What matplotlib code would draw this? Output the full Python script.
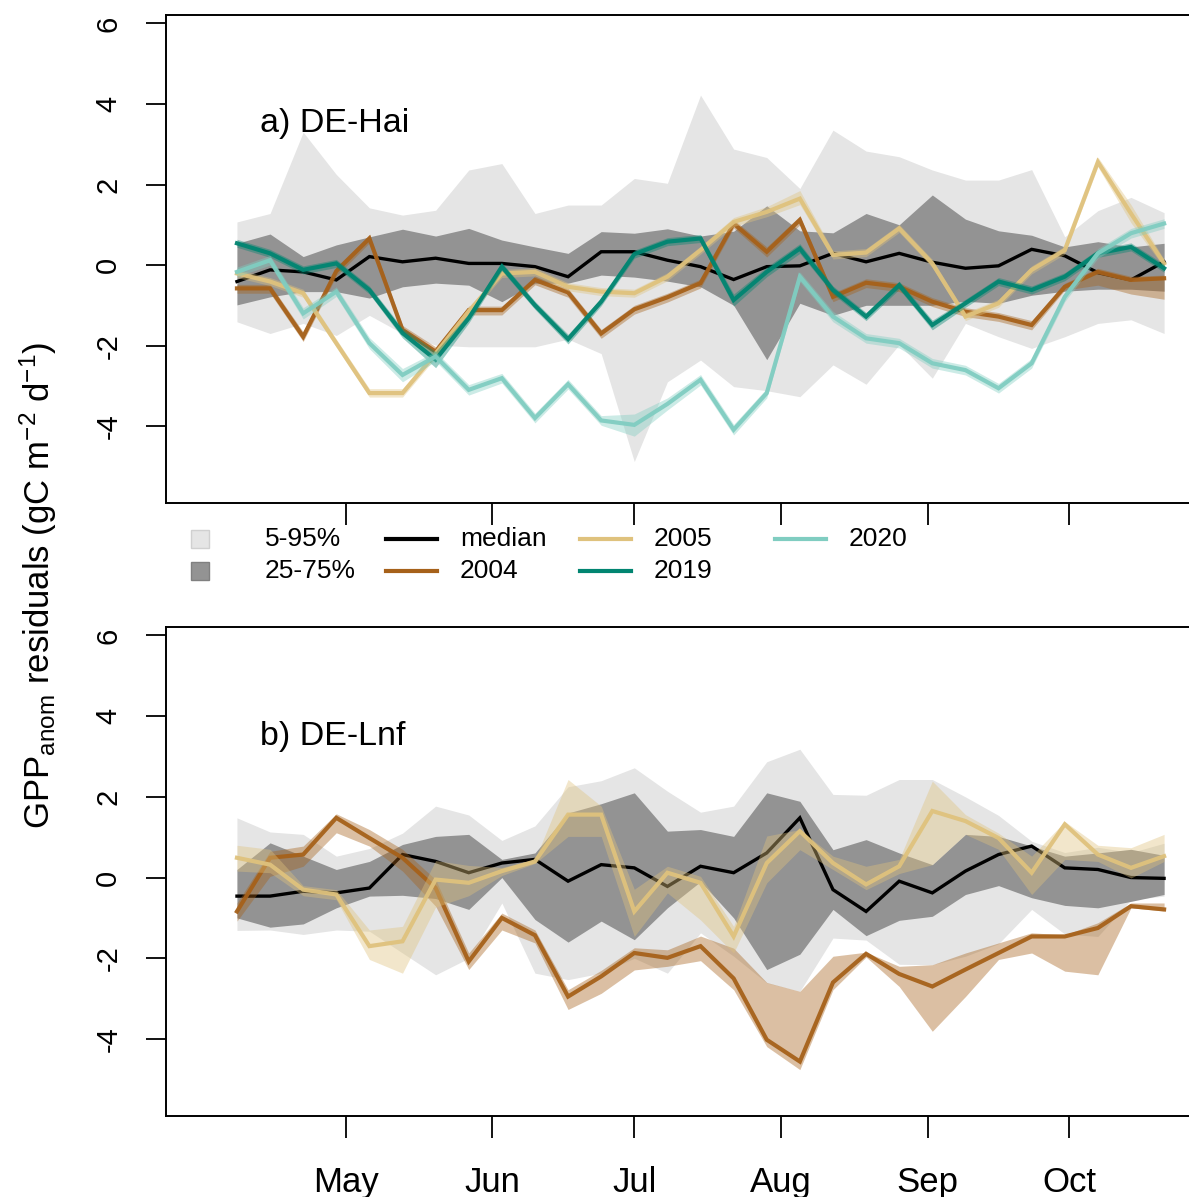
import matplotlib
matplotlib.use("Agg")
import matplotlib.pyplot as plt
from matplotlib.patches import Rectangle
from matplotlib.lines import Line2D

plt.rcParams['font.family'] = ['Liberation Sans', 'DejaVu Sans']
plt.rcParams['mathtext.default'] = 'regular'

# ---------------- data ----------------
doy = [98, 105, 112, 119, 126, 133, 140, 147, 154, 161, 168, 175, 182, 189, 196,
       203, 210, 217, 224, 231, 238, 245, 252, 259, 266, 273, 280, 287, 294]
month_doy = [121, 152, 182, 213, 244, 274]
month_labels = ["May", "Jun", "Jul", "Aug", "Sep", "Oct"]
yticks = [-4, -2, 0, 2, 4, 6]

# a) DE-Hai
hai_q05 = [-1.41, -1.70, -1.45, -1.75, -1.25, -1.70, -1.99, -2.03, -2.03, -2.03, -1.84, -2.20, -4.88, -2.90, -2.36,
           -3.02, -3.12, -3.27, -2.48, -2.96, -1.98, -2.81, -1.45, -1.78, -2.07, -1.78, -1.45, -1.36, -1.70]
hai_q95 = [1.07, 1.28, 3.30, 2.25, 1.42, 1.24, 1.36, 2.36, 2.52, 1.28, 1.49, 1.49, 2.15, 2.03, 4.22,
           2.88, 2.67, 1.90, 3.35, 2.83, 2.69, 2.36, 2.11, 2.11, 2.37, 0.70, 1.35, 1.68, 1.30]
hai_q25 = [-0.99, -0.79, -0.66, -0.66, -0.82, -0.54, -0.45, -0.50, -0.91, -0.45, -0.45, -0.25, -0.30, -0.40, -0.54,
           -1.00, -2.35, -0.95, -1.25, -1.00, -1.00, -1.00, -0.90, -0.95, -0.75, -0.65, -0.60, -0.60, -0.65]
hai_q75 = [0.54, 0.77, 0.21, 0.50, 0.70, 0.89, 0.72, 0.91, 0.62, 0.45, 0.29, 0.83, 0.79, 0.90, 0.72,
           0.84, 1.47, 0.85, 0.80, 1.28, 1.00, 1.74, 1.14, 0.85, 0.74, 0.45, 0.58, 0.45, 0.54]
hai_median = [-0.41, -0.12, -0.17, -0.37, 0.21, 0.08, 0.17, 0.04, 0.04, -0.04, -0.29, 0.33, 0.33, 0.12, -0.04,
              -0.36, -0.04, -0.02, 0.29, 0.08, 0.29, 0.07, -0.08, -0.02, 0.39, 0.23, -0.19, -0.37, 0.08]

hai_2004 = [-0.58, -0.58, -1.78, -0.15, 0.66, -1.61, -2.15, -1.12, -1.12, -0.37, -0.68, -1.70, -1.10, -0.80, -0.45,
            1.03, 0.33, 1.12, -0.79, -0.44, -0.54, -0.91, -1.16, -1.28, -1.49, -0.54, -0.17, -0.37, -0.33]
hai_2004_hi = [-0.48, -0.48, -1.66, -0.05, 0.76, -1.50, -2.03, -1.02, -1.02, -0.27, -0.58, -1.60, -1.00, -0.70, -0.35,
               1.13, 0.45, 1.22, -0.69, -0.34, -0.44, -0.81, -1.06, -1.18, -1.38, -0.45, -0.08, -0.28, -0.25]
hai_2004_lo = [-0.70, -0.70, -1.90, -0.27, 0.55, -1.72, -2.27, -1.24, -1.24, -0.49, -0.80, -1.82, -1.22, -0.92, -0.57,
               0.92, 0.20, 1.00, -0.91, -0.56, -0.66, -1.03, -1.28, -1.40, -1.61, -0.62, -0.50, -0.72, -0.85]

hai_2005 = [-0.21, -0.41, -0.70, -1.94, -3.18, -3.18, -2.20, -1.15, -0.21, -0.17, -0.54, -0.66, -0.70, -0.29, 0.37,
            1.07, 1.32, 1.65, 0.25, 0.31, 0.91, 0.04, -1.28, -0.95, -0.12, 0.37, 2.56, 1.28, 0.04]
hai_2005_hi = [-0.11, -0.31, -0.60, -1.84, -3.07, -3.07, -2.08, -1.04, -0.11, -0.07, -0.44, -0.56, -0.60, -0.19, 0.47,
               1.18, 1.45, 1.85, 0.35, 0.41, 1.01, 0.14, -1.18, -0.85, -0.02, 0.47, 2.68, 1.50, 0.14]
hai_2005_lo = [-0.31, -0.51, -0.80, -2.04, -3.28, -3.28, -2.30, -1.26, -0.31, -0.27, -0.64, -0.76, -0.80, -0.39, 0.27,
               0.96, 1.20, 1.50, 0.15, 0.21, 0.81, -0.06, -1.38, -1.05, -0.22, 0.27, 2.44, 1.05, -0.06]

hai_2019 = [0.54, 0.29, -0.12, 0.04, -0.62, -1.69, -2.35, -1.32, -0.04, -1.00, -1.84, -0.91, 0.27, 0.58, 0.66,
            -0.87, -0.17, 0.41, -0.62, -1.28, -0.50, -1.49, -0.95, -0.41, -0.62, -0.29, 0.29, 0.45, -0.08]
hai_2019_hi = [0.64, 0.39, -0.02, 0.14, -0.52, -1.57, -2.15, -1.20, 0.06, -0.90, -1.72, -0.81, 0.37, 0.68, 0.76,
               -0.72, -0.05, 0.53, -0.52, -1.18, -0.40, -1.37, -0.85, -0.31, -0.52, -0.19, 0.39, 0.55, 0.02]
hai_2019_lo = [0.44, 0.19, -0.22, -0.06, -0.72, -1.81, -2.55, -1.44, -0.14, -1.10, -1.96, -1.01, 0.17, 0.48, 0.56,
               -1.02, -0.29, 0.29, -0.72, -1.38, -0.60, -1.61, -1.05, -0.51, -0.72, -0.39, 0.19, 0.35, -0.18]

hai_2020 = [-0.17, 0.12, -1.20, -0.66, -1.94, -2.73, -2.27, -3.10, -2.81, -3.80, -2.96, -3.86, -3.97, -3.45, -2.85,
            -4.09, -3.18, -0.29, -1.28, -1.82, -1.94, -2.44, -2.61, -3.06, -2.44, -0.79, 0.29, 0.79, 1.03]
hai_2020_hi = [-0.05, 0.24, -1.06, -0.54, -1.80, -2.57, -2.15, -2.97, -2.69, -3.68, -2.84, -3.74, -3.70, -3.30, -2.72,
               -3.96, -3.06, -0.17, -1.15, -1.70, -1.82, -2.32, -2.49, -2.94, -2.32, -0.67, 0.41, 0.91, 1.15]
hai_2020_lo = [-0.29, 0.00, -1.34, -0.78, -2.08, -2.90, -2.39, -3.23, -2.93, -3.92, -3.08, -3.98, -4.25, -3.60, -2.98,
               -4.22, -3.30, -0.41, -1.41, -1.94, -2.06, -2.56, -2.73, -3.18, -2.56, -0.91, 0.17, 0.67, 0.91]

# b) DE-Lnf
lnf_q05 = [-1.31, -1.30, -1.41, -1.30, -1.33, -1.87, -2.41, -2.00, -0.63, -2.37, -2.53, -2.37, -2.00, -2.37, -1.37,
           -1.95, -2.61, -2.82, -1.50, -1.55, -2.15, -2.16, -1.95, -1.64, -0.79, -1.40, -1.46, -0.55, -0.46]
lnf_q95 = [1.48, 1.13, 1.07, 0.53, 0.72, 1.10, 1.77, 1.55, 0.92, 1.28, 2.25, 2.40, 2.72, 2.14, 1.62,
           1.77, 2.87, 3.18, 2.06, 2.04, 2.43, 2.43, 2.00, 1.54, 0.90, 0.62, 0.75, 0.62, 0.85]
lnf_q25 = [-1.00, -1.23, -1.15, -0.75, -0.46, -0.44, -0.52, -0.79, 0.00, -1.04, -1.60, -1.08, -1.54, -0.75, -0.10,
           -1.00, -2.28, -1.90, -0.79, -1.44, -1.06, -0.96, -0.42, -0.20, -0.50, -0.69, -0.75, -0.59, -0.42]
lnf_q75 = [0.20, 0.86, 0.53, 0.20, 0.40, 0.82, 1.02, 1.07, 0.45, 0.61, 1.60, 1.83, 2.10, 1.15, 1.19,
           1.02, 2.10, 1.89, 0.69, 0.94, 0.61, 0.32, 1.07, 1.02, 0.78, 0.53, 0.61, 0.70, 0.55]
lnf_median = [-0.46, -0.46, -0.34, -0.38, -0.26, 0.57, 0.40, 0.12, 0.36, 0.45, -0.09, 0.32, 0.24, -0.22, 0.28,
              0.12, 0.61, 1.48, -0.30, -0.84, -0.09, -0.38, 0.16, 0.57, 0.78, 0.24, 0.20, 0.00, -0.02]

lnf_2004 = [-0.84, 0.49, 0.57, 1.48, 0.98, 0.49, -0.26, -2.08, -1.00, -1.43, -2.95, -2.45, -1.87, -1.99, -1.70,
            -2.50, -4.02, -4.56, -2.60, -1.89, -2.39, -2.70, -2.28, -1.87, -1.46, -1.46, -1.25, -0.71, -0.79]
lnf_2004_hi = [-0.63, 0.65, 0.78, 1.58, 1.19, 0.70, -0.05, -1.87, -0.88, -1.30, -2.78, -2.30, -1.74, -1.79, -1.45,
               -1.75, -2.60, -2.82, -1.95, -1.85, -2.20, -2.16, -1.87, -1.62, -1.37, -1.42, -1.12, -0.63, -0.63]
lnf_2004_lo = [-1.08, 0.03, 0.28, 1.11, 0.78, 0.16, -0.71, -2.28, -1.30, -1.62, -3.27, -2.87, -2.29, -2.20, -2.06,
               -2.78, -4.19, -4.76, -2.78, -1.97, -2.70, -3.81, -2.95, -2.03, -1.87, -2.32, -2.41, -0.75, -0.83]

lnf_2005 = [0.49, 0.32, -0.30, -0.42, -1.70, -1.58, -0.05, -0.13, 0.16, 0.40, 1.56, 1.56, -0.84, 0.12, -0.13,
            -1.46, 0.36, 1.15, 0.36, -0.17, 0.28, 1.65, 1.40, 0.98, 0.12, 1.32, 0.57, 0.24, 0.53]
lnf_2005_hi = [0.80, 0.70, -0.20, -0.30, -1.30, -1.21, 0.42, 0.30, 0.25, 0.45, 2.43, 1.77, -0.29, 0.28, 0.03,
               -1.21, 1.03, 1.19, 0.53, 0.28, 0.45, 2.39, 1.56, 1.10, 0.53, 1.39, 0.80, 0.74, 1.07]
lnf_2005_lo = [0.16, 0.12, -0.45, -0.55, -2.03, -2.37, -0.73, -0.45, 0.05, 0.35, 1.02, 1.02, -1.46, -0.38, -1.05,
               -1.87, -0.13, 0.69, 0.20, -0.30, 0.10, 0.32, 1.07, 0.70, -0.42, 0.45, 0.40, -0.01, 0.40]

# ---------------- style ----------------
C_LIGHT = "#E5E5E5"
C_DARK = "#939393"
C2004 = "#A6611A"
C2005 = "#DFC27D"
C2019 = "#018571"
C2020 = "#80CDC1"

W, H = 1189, 1197
fig = plt.figure(figsize=(W / 100, H / 100), dpi=100)


def fx(px):
    return px / W


def fy(py):
    return 1 - py / H


ax_a = fig.add_axes([fx(166), fy(503), fx(1192) - fx(166), fy(15) - fy(503)])
ax_b = fig.add_axes([fx(166), fy(1116), fx(1192) - fx(166), fy(627) - fy(1116)])


def draw_panel(ax, q05, q95, q25, q75, med, years, title):
    ax.fill_between(doy, q05, q95, color=C_LIGHT, lw=0, zorder=1)
    ax.fill_between(doy, q25, q75, color=C_DARK, lw=0, zorder=2)
    ax.plot(doy, med, color="black", lw=2.4, zorder=3, solid_joinstyle="miter")
    z = 4
    for line, lo, hi, col in years:
        ax.fill_between(doy, lo, hi, color=col, alpha=0.4, lw=0, zorder=z)
        ax.plot(doy, line, color=col, lw=3.0, alpha=0.95, zorder=z + 0.5,
                solid_joinstyle="miter")
        z += 1
    ax.set_xlim(83.0, 299.9)
    ax.set_ylim(-5.91, 6.21)
    ax.set_yticks(yticks)
    ax.set_yticklabels([str(t) for t in yticks])
    ax.set_xticks(month_doy)
    ax.tick_params(axis="y", length=14.5, width=1.3, pad=17, labelsize=21,
                   labelrotation=90, direction="out")
    for lab in ax.get_yticklabels():
        lab.set_verticalalignment("center")
    ax.tick_params(axis="x", length=16, width=1.3, pad=20, labelsize=25,
                   direction="out")
    for s in ax.spines.values():
        s.set_linewidth(1.4)
        s.set_color("black")
    ax.text((260 - 166) / (1189 - 166), 0.777, title, transform=ax.transAxes,
            fontsize=24.5, ha="left", va="center")


draw_panel(ax_a, hai_q05, hai_q95, hai_q25, hai_q75, hai_median,
           [(hai_2004, hai_2004_lo, hai_2004_hi, C2004),
            (hai_2005, hai_2005_lo, hai_2005_hi, C2005),
            (hai_2019, hai_2019_lo, hai_2019_hi, C2019),
            (hai_2020, hai_2020_lo, hai_2020_hi, C2020)],
           "a) DE-Hai")
ax_a.set_xticklabels([])

draw_panel(ax_b, lnf_q05, lnf_q95, lnf_q25, lnf_q75, lnf_median,
           [(lnf_2004, lnf_2004_lo, lnf_2004_hi, C2004),
            (lnf_2005, lnf_2005_lo, lnf_2005_hi, C2005)],
           "b) DE-Lnf")
ax_b.set_xticklabels(month_labels)

# y label
fig.text(fx(38), fy(585),
         "GPP$_{anom}$ residuals (gC m$^{-2}$ d$^{-1}$)",
         rotation=90, ha="center", va="center", fontsize=25)

# legend (drawn manually, R style)
leg_fs = 19
sq = 18
for (py, col, ec, lab) in [(539, C_LIGHT, "#D0D0D0", "5-95%"),
                           (571, C_DARK, "#808080", "25-75%")]:
    fig.add_artist(Rectangle((fx(200 - sq / 2), fy(py + sq / 2)), sq / W, sq / H,
                             transform=fig.transFigure, facecolor=col,
                             edgecolor=ec, lw=1))
    fig.text(fx(265), fy(py), lab, ha="left", va="center", fontsize=leg_fs)

leg_lines = [(386, 539, "black", "median"), (386, 571, C2004, "2004"),
             (580, 539, C2005, "2005"), (580, 571, C2019, "2019"),
             (775, 539, C2020, "2020")]
for (px, py, col, lab) in leg_lines:
    fig.add_artist(Line2D([fx(px), fx(px + 51)], [fy(py), fy(py)],
                          transform=fig.transFigure, color=col, lw=3.0))
    fig.text(fx(px + 74), fy(py), lab, ha="left", va="center", fontsize=leg_fs)

fig.savefig("out.png", dpi=100)
